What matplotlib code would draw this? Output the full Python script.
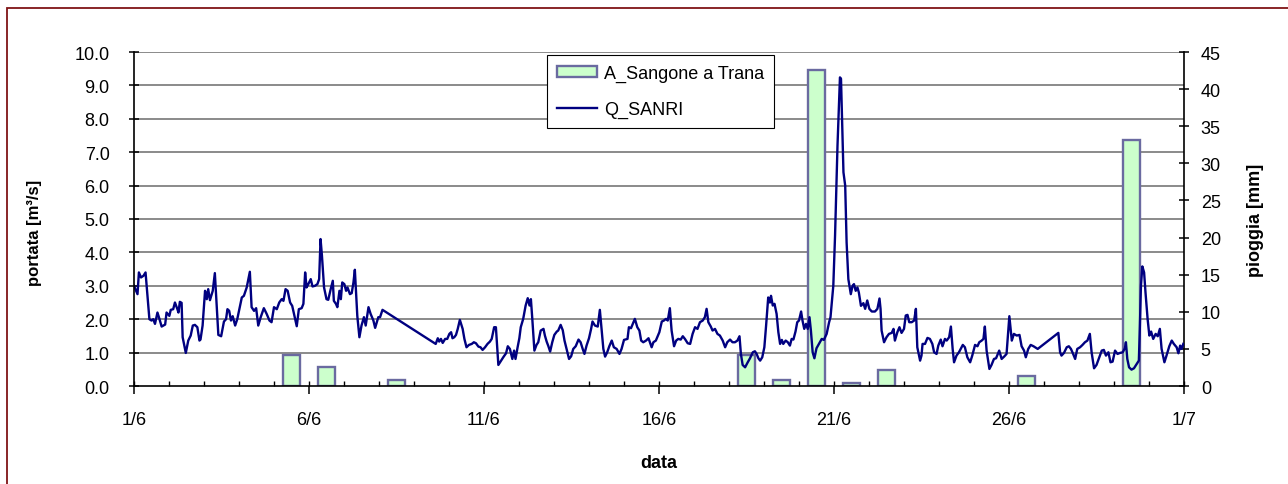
import matplotlib.pyplot as plt
from matplotlib.patches import Rectangle
from matplotlib.ticker import MultipleLocator

plt.rcParams['font.family'] = ['Liberation Sans', 'DejaVu Sans']

# daily rain, A_Sangone a Trana [mm], days 1..30 of June
rain_day = list(range(1, 31))
rain_mm = [0, 0, 0, 0, 4.2, 2.6, 0, 0.8, 0, 0,
           0, 0, 0, 0, 0, 0, 0, 4.2, 0.8, 42.6,
           0.4, 2.2, 0, 0, 0, 1.4, 0, 0, 33.1, 0]

# discharge Q_SANRI [m3/s], (days since 1/6 00:00, value)
q_days_1_7 = [
    (0.00, 3.00), (0.10, 2.75), (0.14, 3.40), (0.20, 3.25), (0.27, 3.30), (0.33, 3.40),
    (0.44, 2.00), (0.50, 1.96), (0.55, 2.00), (0.60, 1.86), (0.67, 2.20), (0.72, 2.03),
    (0.79, 1.78), (0.89, 1.84), (0.93, 2.20), (1.01, 2.10), (1.05, 2.28), (1.12, 2.30),
    (1.17, 2.50), (1.24, 2.30), (1.27, 2.20), (1.31, 2.52), (1.36, 2.49), (1.39, 1.46),
    (1.48, 0.99), (1.55, 1.36), (1.62, 1.51), (1.68, 1.81), (1.74, 1.83), (1.81, 1.76),
    (1.87, 1.36), (1.90, 1.39), (1.96, 1.81), (2.03, 2.85), (2.08, 2.60), (2.12, 2.90),
    (2.17, 2.57), (2.25, 2.85), (2.31, 3.38), (2.41, 1.53), (2.49, 1.49), (2.57, 1.93),
    (2.63, 2.00), (2.67, 2.30), (2.72, 2.25), (2.77, 1.96), (2.82, 2.09), (2.89, 1.81),
    (2.95, 2.00), (3.01, 2.30), (3.08, 2.65), (3.14, 2.70), (3.22, 2.95), (3.31, 3.42),
    (3.36, 2.36), (3.43, 2.25), (3.49, 2.33), (3.55, 1.81), (3.62, 2.06), (3.71, 2.33),
    (3.79, 2.16), (3.87, 1.96), (3.93, 1.91), (4.00, 2.36), (4.08, 2.30), (4.15, 2.50),
    (4.22, 2.60), (4.27, 2.55), (4.33, 2.90), (4.39, 2.85), (4.46, 2.50), (4.52, 2.40),
    (4.57, 2.16), (4.65, 1.79), (4.71, 2.30), (4.79, 2.33), (4.84, 2.46), (4.89, 3.40),
    (4.93, 2.95), (4.98, 3.05), (5.05, 3.20), (5.10, 2.98), (5.17, 3.00), (5.24, 3.05),
    (5.29, 3.20), (5.33, 4.40), (5.37, 3.90), (5.43, 2.95), (5.50, 2.60), (5.55, 2.58),
    (5.62, 2.90), (5.68, 3.15), (5.71, 2.55), (5.77, 2.46), (5.81, 2.36), (5.87, 2.85),
    (5.91, 2.60), (5.95, 3.10), (6.01, 3.05), (6.06, 2.85), (6.10, 2.95), (6.17, 2.75),
    (6.22, 2.78), (6.27, 3.10), (6.31, 3.48), (6.38, 2.10), (6.44, 1.46), (6.50, 1.81),
    (6.57, 2.06), (6.62, 1.81), (6.70, 2.36), (6.76, 2.16), (6.84, 1.96), (6.89, 1.74),
    (6.98, 2.06),
]
q_days_8_14 = [
    (7.03, 2.06), (7.10, 2.28), (8.62, 1.26), (8.68, 1.43), (8.72, 1.33), (8.77, 1.41),
    (8.82, 1.29), (8.89, 1.41), (8.95, 1.41), (9.01, 1.56), (9.06, 1.61), (9.10, 1.43),
    (9.15, 1.46), (9.20, 1.53), (9.25, 1.71), (9.31, 1.98), (9.39, 1.71), (9.44, 1.41),
    (9.50, 1.16), (9.57, 1.23), (9.65, 1.26), (9.71, 1.31), (9.77, 1.28), (9.84, 1.18),
    (9.90, 1.16), (9.96, 1.08), (10.03, 1.16), (10.10, 1.26), (10.17, 1.33), (10.22, 1.41),
    (10.29, 1.76), (10.34, 1.76), (10.41, 0.63), (10.49, 0.76), (10.55, 0.86), (10.63, 0.98),
    (10.68, 1.19), (10.74, 1.11), (10.81, 0.81), (10.86, 1.06), (10.90, 0.81), (10.96, 1.16),
    (11.01, 1.43), (11.05, 1.76), (11.12, 2.01), (11.19, 2.41), (11.25, 2.63), (11.30, 2.41),
    (11.34, 2.60), (11.38, 2.01), (11.44, 1.06), (11.50, 1.23), (11.55, 1.31), (11.62, 1.66),
    (11.70, 1.71), (11.74, 1.51), (11.79, 1.33), (11.84, 1.19), (11.89, 1.03), (11.95, 1.31),
    (12.01, 1.53), (12.08, 1.63), (12.12, 1.66), (12.19, 1.83), (12.25, 1.67), (12.30, 1.36),
    (12.36, 1.11), (12.43, 0.81), (12.49, 0.89), (12.55, 1.11), (12.62, 1.19), (12.70, 1.39),
    (12.76, 1.31), (12.82, 1.11), (12.87, 0.96), (12.93, 1.21), (13.00, 1.43), (13.06, 1.71),
    (13.10, 1.93), (13.17, 1.81), (13.25, 1.78), (13.31, 2.28), (13.36, 1.71), (13.41, 1.11),
    (13.46, 0.88), (13.52, 1.01), (13.58, 1.19), (13.65, 1.36), (13.71, 1.16), (13.79, 1.11),
    (13.87, 0.96), (13.93, 1.11), (14.00, 1.38),
]
q_days_15_20 = [
    (14.10, 1.41), (14.14, 1.76), (14.20, 1.73), (14.25, 1.86), (14.31, 2.01), (14.38, 1.76),
    (14.44, 1.66), (14.49, 1.36), (14.55, 1.31), (14.63, 1.36), (14.70, 1.43), (14.74, 1.31),
    (14.79, 1.16), (14.84, 1.31), (14.91, 1.36), (15.01, 1.61), (15.08, 1.93), (15.14, 1.96),
    (15.20, 2.01), (15.25, 1.96), (15.31, 2.33), (15.36, 1.66), (15.43, 1.19), (15.49, 1.36),
    (15.55, 1.41), (15.62, 1.39), (15.68, 1.49), (15.74, 1.41), (15.82, 1.28), (15.89, 1.26),
    (15.96, 1.56), (16.03, 1.76), (16.10, 1.71), (16.17, 1.91), (16.25, 1.96), (16.31, 2.06),
    (16.36, 2.31), (16.41, 1.91), (16.48, 1.78), (16.53, 1.66), (16.60, 1.71), (16.67, 1.56),
    (16.74, 1.51), (16.82, 1.36), (16.89, 1.16), (16.95, 1.31), (17.03, 1.39), (17.10, 1.31),
    (17.17, 1.31), (17.24, 1.36), (17.30, 1.49), (17.34, 0.96), (17.39, 0.63), (17.46, 0.56),
    (17.53, 0.70), (17.60, 0.83), (17.68, 1.01), (17.74, 1.04), (17.79, 0.96), (17.84, 0.83),
    (17.89, 0.76), (17.95, 0.86), (18.01, 1.16), (18.06, 1.81), (18.12, 2.65), (18.17, 2.50),
    (18.20, 2.70), (18.25, 2.41), (18.30, 2.46), (18.36, 2.16), (18.41, 1.61), (18.46, 1.26),
    (18.51, 1.38), (18.55, 1.26), (18.62, 1.36), (18.68, 1.31), (18.74, 1.21), (18.79, 1.41),
    (18.84, 1.39), (18.90, 1.63), (18.95, 1.91), (19.00, 1.96), (19.06, 2.23), (19.10, 1.96),
    (19.15, 1.71), (19.20, 1.86), (19.25, 1.71), (19.30, 2.06), (19.34, 1.66), (19.39, 1.01),
    (19.44, 0.83), (19.50, 1.13), (19.57, 1.26), (19.65, 1.41), (19.71, 1.38), (19.79, 1.56),
    (19.86, 1.91), (19.90, 2.06),
]
q_days_21_24 = [
    (19.98, 3.00), (20.03, 4.50), (20.10, 7.20), (20.17, 9.24), (20.20, 9.20), (20.27, 6.40),
    (20.32, 6.00), (20.36, 4.30), (20.41, 3.20), (20.48, 2.75), (20.53, 3.00), (20.57, 3.05),
    (20.62, 2.85), (20.67, 2.95), (20.71, 2.80), (20.77, 2.40), (20.84, 2.48), (20.89, 2.31),
    (20.95, 2.56), (21.01, 2.31), (21.08, 2.23), (21.17, 2.23), (21.24, 2.31), (21.30, 2.62),
    (21.33, 2.31), (21.36, 1.66), (21.43, 1.31), (21.50, 1.46), (21.57, 1.56), (21.65, 1.59),
    (21.70, 1.71), (21.74, 1.36), (21.81, 1.61), (21.87, 1.76), (21.93, 1.59), (22.00, 1.71),
    (22.05, 2.11), (22.10, 2.13), (22.15, 1.91), (22.22, 1.91), (22.29, 1.96), (22.34, 2.31),
    (22.38, 1.16), (22.46, 0.76), (22.50, 0.91), (22.53, 1.26), (22.60, 1.26), (22.67, 1.44),
    (22.74, 1.41), (22.81, 1.26), (22.86, 1.01), (22.93, 0.96), (22.98, 1.21), (23.05, 1.39),
    (23.10, 1.19), (23.17, 1.41), (23.22, 1.36), (23.29, 1.46), (23.34, 1.78), (23.39, 1.11),
    (23.43, 0.71), (23.50, 0.91), (23.57, 1.01),
]
q_days_25_30 = [
    (23.68, 1.23), (23.74, 1.16), (23.81, 0.86), (23.89, 0.71), (23.95, 0.91), (24.03, 1.23),
    (24.10, 1.19), (24.15, 1.31), (24.22, 1.36), (24.27, 1.41), (24.31, 1.78), (24.36, 1.06),
    (24.44, 0.51), (24.50, 0.63), (24.57, 0.81), (24.63, 0.83), (24.72, 1.06), (24.79, 0.81),
    (24.87, 0.89), (24.93, 0.96), (25.01, 2.09), (25.08, 1.36), (25.14, 1.56), (25.22, 1.51),
    (25.30, 1.53), (25.36, 1.19), (25.43, 1.06), (25.48, 0.86), (25.55, 1.11), (25.62, 1.23),
    (25.70, 1.19), (25.82, 1.11), (26.41, 1.59), (26.46, 1.01), (26.50, 0.91), (26.57, 0.99),
    (26.65, 1.16), (26.71, 1.19), (26.77, 1.11), (26.82, 0.99), (26.89, 0.81), (26.95, 1.11),
    (27.03, 1.16), (27.10, 1.23), (27.17, 1.31), (27.24, 1.36), (27.31, 1.56), (27.36, 1.01),
    (27.43, 0.53), (27.50, 0.63), (27.58, 0.86), (27.65, 1.06), (27.71, 1.08), (27.77, 0.91),
    (27.84, 1.01), (27.90, 0.71), (27.96, 0.73), (28.03, 1.06), (28.10, 0.96), (28.17, 0.99),
    (28.25, 1.01), (28.31, 1.13), (28.34, 1.31), (28.38, 0.81), (28.43, 0.56), (28.50, 0.49),
    (28.57, 0.53), (28.65, 0.66), (28.71, 0.76), (28.74, 1.81), (28.77, 3.00), (28.81, 3.58),
    (28.86, 3.40), (28.90, 2.80), (28.96, 2.01), (29.01, 1.51), (29.06, 1.63), (29.12, 1.41),
    (29.19, 1.56), (29.25, 1.49), (29.31, 1.71), (29.36, 1.11), (29.44, 0.71), (29.50, 0.91),
    (29.58, 1.19), (29.65, 1.36), (29.71, 1.26), (29.79, 1.16), (29.84, 0.98), (29.89, 1.21),
    (29.93, 1.11), (29.98, 1.26),
]

date_ticks = [0, 5, 10, 15, 20, 25, 30]
date_labels = ['1/6', '6/6', '11/6', '16/6', '21/6', '26/6', '1/7']
q_ticks = [0, 1, 2, 3, 4, 5, 6, 7, 8, 9, 10]
rain_ticks = [0, 5, 10, 15, 20, 25, 30, 35, 40, 45]

q_all = q_days_1_7 + q_days_8_14 + q_days_15_20 + q_days_21_24 + q_days_25_30
q_t = [p[0] for p in q_all]
q_v = [p[1] for p in q_all]

fig = plt.figure(figsize=(12.88, 4.85), dpi=100)
W, H = 1288, 485
ax = fig.add_axes([134 / W, 1 - 387 / H, 1050 / W, 334 / H])
ax2 = ax.twinx()
ax.set_zorder(ax2.get_zorder() + 1)
ax.patch.set_visible(False)

# gridlines of the left axis, drawn under the bars
for v in q_ticks[1:]:
    ax2.axhline(v * 45 / 10, color='#8a8a8a', lw=1.4, zorder=0)

bx = [d - 0.5 for d, r in zip(rain_day, rain_mm) if r > 0]
bh = [r for r in rain_mm if r > 0]
bars = ax2.bar(bx, bh, width=0.5, color='#ccffcc', edgecolor='#6a6aa0',
               linewidth=1.7, zorder=2, label='A_Sangone a Trana')

line, = ax.plot(q_t, q_v, color='#000080', lw=1.7, label='Q_SANRI')

ax.set_xlim(0, 30)
ax.set_ylim(0, 10)
ax2.set_ylim(0, 45)

ax.set_xticks(date_ticks)
ax.set_xticklabels(date_labels)
ax.xaxis.set_minor_locator(MultipleLocator(1))
ax.xaxis.remove_overlapping_locs = False
ax.set_yticks(q_ticks)
ax.set_yticklabels(['%.1f' % v for v in q_ticks], family=['Liberation Sans Narrow', 'Liberation Sans'])
ax2.set_yticks(rain_ticks)

ax.tick_params(axis='x', which='major', direction='out', length=6, width=1.1,
               pad=12, labelsize=13)
ax.tick_params(axis='x', which='minor', direction='in', length=3.6, width=1.0)
ax.tick_params(axis='y', direction='inout', length=7.2, width=1.1, pad=14, labelsize=13)
ax2.tick_params(axis='y', direction='inout', length=7.2, width=1.1, pad=8.5, labelsize=13)

for a in (ax, ax2):
    a.spines['top'].set_visible(False)
    for s in ('left', 'right', 'bottom'):
        a.spines[s].set_linewidth(1.2)
ax2.spines['left'].set_visible(False)
ax2.spines['bottom'].set_visible(False)
ax.spines['right'].set_visible(False)

ax.set_ylabel('portata [m³/s]', fontsize=12, fontweight='bold')
ax.yaxis.set_label_coords(-0.088, 0.46)
ax2.set_ylabel('pioggia [mm]', fontsize=13, fontweight='bold')
ax2.yaxis.set_label_coords(1.06, 0.5)
ax.set_xlabel('data', fontsize=13, fontweight='bold')
ax.xaxis.set_label_coords(0.5, -0.205)

leg = fig.legend([bars, line], ['A_Sangone a Trana', 'Q_SANRI'],
                 loc='upper left', bbox_to_anchor=(547 / W, 1 - 56 / H),
                 fontsize=13, frameon=True, fancybox=False, framealpha=1,
                 edgecolor='black', handlelength=2.2, handleheight=0.5,
                 handletextpad=0.4, labelspacing=1.05, borderpad=0.55,
                 borderaxespad=0)
leg.get_frame().set_linewidth(0.8)

# outer chart border
fig.patches.append(Rectangle((7 / W, -0.1), 1.1, 1.1 - 9 / H, transform=fig.transFigure,
                             fill=False, edgecolor='#7f1416', lw=1.3, zorder=10))

fig.savefig('out.png', dpi=100)
